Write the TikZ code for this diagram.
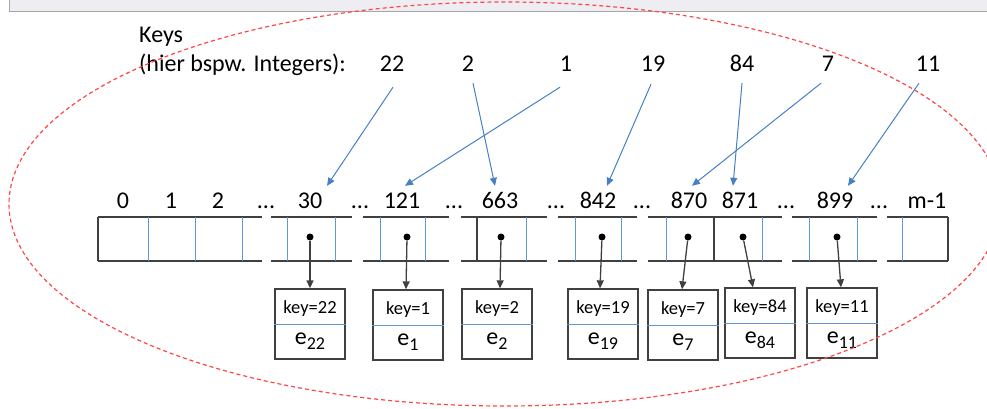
\documentclass[tikz,border=0pt]{standalone}
\usepackage{fontspec}
\setmainfont{Carlito}
\usetikzlibrary{arrows.meta}

\definecolor{keyblue}{RGB}{70,128,196}
\definecolor{cellblue}{RGB}{95,152,210}
\definecolor{barfill}{RGB}{238,237,242}
\definecolor{hullred}{RGB}{255,70,70}

\newcommand\esub[1]{e\raisebox{-5pt}{\fontsize{18}{20}\selectfont #1}}

\begin{document}
\begin{tikzpicture}[x=1pt,y=-1pt,
    idx/.style={anchor=base,inner sep=0pt,text height=16pt,text depth=0pt,
      font=\fontsize{24}{28}\selectfont},
    cell/.style={draw=black!75,line width=1.3pt},
    divider/.style={draw=cellblue,line width=1pt},
    keyarrow/.style={draw=keyblue,line width=1pt,-{Triangle[length=8pt,width=7pt]}},
    ptr/.style={draw=black!75,line width=1.3pt,-{Triangle[length=8pt,width=7pt]}},
    dot/.style={circle,fill=black,inner sep=0pt,minimum size=7pt},
    elem/.style={draw=black!75,line width=1.3pt,minimum width=70pt,minimum height=70pt,inner sep=0pt},
    keytxt/.style={anchor=base,inner sep=0pt,font=\fontsize{18.5}{22}\selectfont},
    etxt/.style={anchor=base,inner sep=0pt,font=\fontsize{24}{28}\selectfont},
    hull/.style={draw=hullred,dashed,dash pattern=on 4pt off 3pt,line width=1.2pt}]
  \useasboundingbox (0,0) rectangle (987,409);
  \fill[barfill] (9,-5) rectangle (995,12);
  \draw[black!35,line width=1pt] (9,-5) -- (9,12) -- (995,12);

  \node[idx,anchor=base west] (keys) at (139,43) {Keys};
  \node[idx,anchor=base west] (keyssub) at (139,72) {(hier bspw. Integers):};
  \foreach \k/\x in {22/392,2/468,1/566,19/653,84/742,7/828,11/928}
    \node[idx] (k\k) at (\x,72) {\k};

  \foreach \i/\x in {0/123,1/171,2/218,30/310,121/402,663/500,842/598,870/689,871/740,899/835}
    \node[idx] (i\i) at (\x,208) {\i};
  \node[idx] (im) at (927,208) {m-1};
  \foreach \x [count=\n] in {266,360,454,556,642,786,879}
    \node[idx] (gap\n) at (\x,208) {...};

  \foreach \a/\b in {98/262,271/352,363/449,461/547,558/637,648/782,792/877,887/948}
    \draw[cell] (\a,217) -- (\b,217) (\a,261) -- (\b,261);
  \foreach \x in {148,195,242,287,335,380,425,526,575,621,666,762,809,857,902}
    \draw[divider] (\x,217) -- (\x,261);
  \foreach \x in {98,477,714,948}
    \draw[cell] (\x,217) -- (\x,261);

  \foreach \i/\x in {30/310,121/407,663/501,842/602,870/688,871/743,899/837}
    \node[dot] (d\i) at (\x,237) {};

  \foreach \e/\x/\y in {22/310/324,1/408/325,2/497/324,19/603/324,7/683/325,84/760/323,11/842/323} {
    \node[elem] (e\e) at (\x,\y) {};
    \draw[divider] (e\e.west) -- (e\e.east);
    \node[keytxt] (ek\e) at ([yshift=-25pt]e\e.north) {key=\e};
    \node[etxt] (ev\e) at ([yshift=-56pt]e\e.north) {\esub{\e}};
  }

  \foreach \k/\i/\sx/\sy/\ex in {22/30/1/15/17,2/663/5/11/-5,1/121/-6/15/3,19/842/-2/12/9,84/871/0/11/-7,7/870/-7/11/3,11/899/-9/11/13}
    \draw[keyarrow] ([shift={(\sx,\sy)}]k\k.south) -- ([shift={(\ex,-6)}]i\i.north);

  \foreach \i/\e/\ex in {30/22/0,121/1/-2,663/2/3,842/19/-3,870/7/-1,871/84/-7,899/11/-1}
    \draw[ptr] (d\i) -- ([xshift=\ex pt]e\e.north);

  \draw[hull] (505,204) ellipse [x radius=496,y radius=202];
\end{tikzpicture}
\end{document}
